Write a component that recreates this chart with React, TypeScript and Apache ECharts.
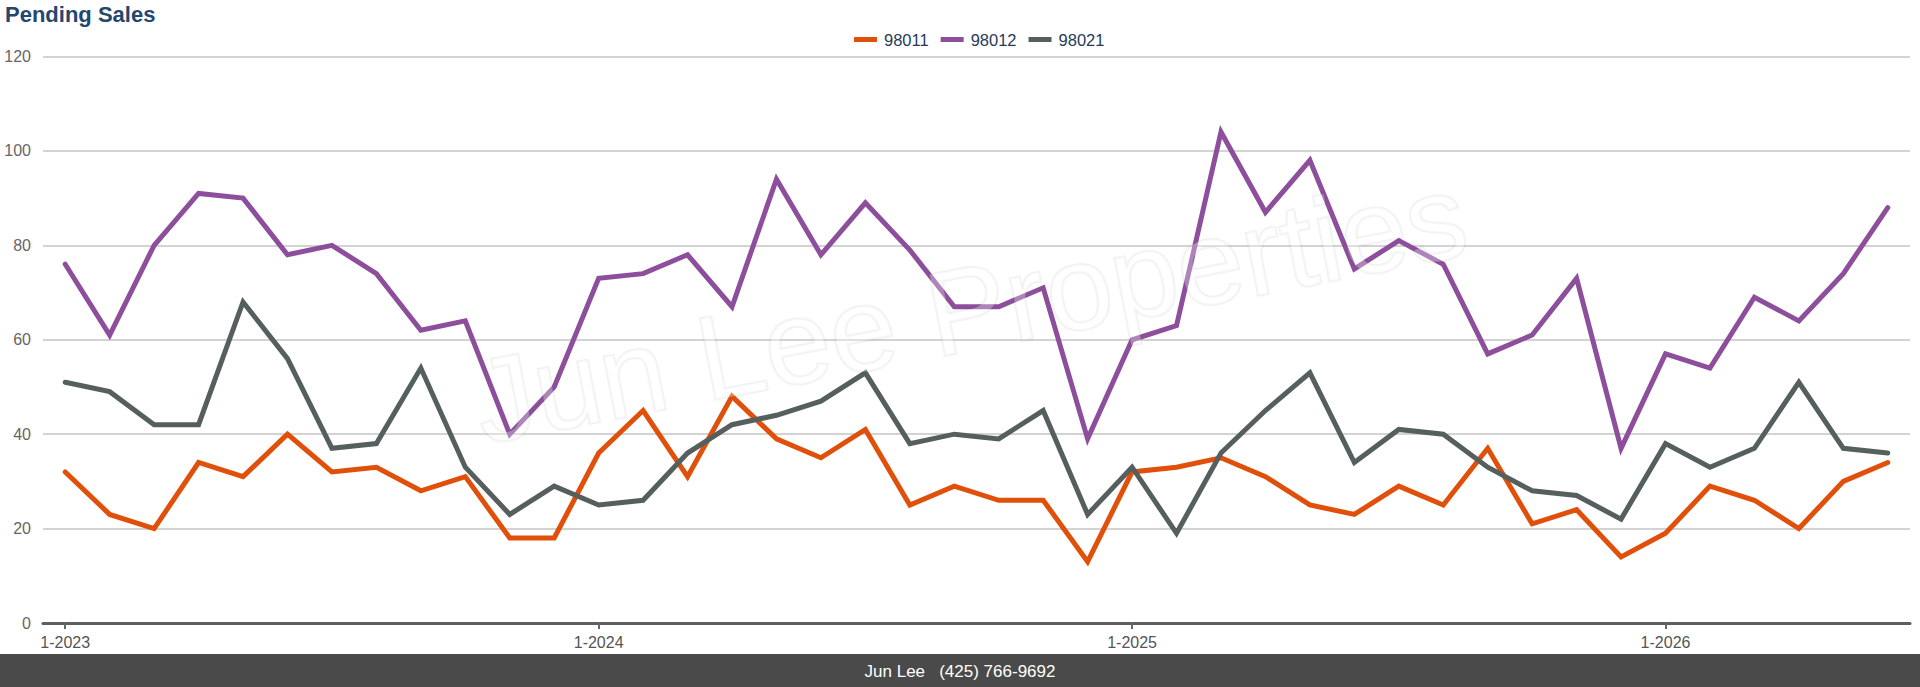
import React, { useEffect, useRef } from "react";
import * as echarts from "echarts";

const FONT = "'Liberation Sans', Arial, Helvetica, sans-serif";

const months: string[] = [
  "1-2023", "2-2023", "3-2023", "4-2023", "5-2023", "6-2023", "7-2023", "8-2023", "9-2023", "10-2023", "11-2023", "12-2023",
  "1-2024", "2-2024", "3-2024", "4-2024", "5-2024", "6-2024", "7-2024", "8-2024", "9-2024", "10-2024", "11-2024", "12-2024",
  "1-2025", "2-2025", "3-2025", "4-2025", "5-2025", "6-2025", "7-2025", "8-2025", "9-2025", "10-2025", "11-2025", "12-2025",
  "1-2026", "2-2026", "3-2026", "4-2026", "5-2026", "6-2026",
];

const zip98011: number[] = [
  32, 23, 20, 34, 31, 40, 32, 33, 28, 31, 18, 18,
  36, 45, 31, 48, 39, 35, 41, 25, 29, 26, 26, 13,
  32, 33, 35, 31, 25, 23, 29, 25, 37, 21, 24, 14,
  19, 29, 26, 20, 30, 34,
];

const zip98012: number[] = [
  76, 61, 80, 91, 90, 78, 80, 74, 62, 64, 40, 50,
  73, 74, 78, 67, 94, 78, 89, 79, 67, 67, 71, 39,
  60, 63, 104, 87, 98, 75, 81, 76, 57, 61, 73, 37,
  57, 54, 69, 64, 74, 88,
];

const zip98021: number[] = [
  51, 49, 42, 42, 68, 56, 37, 38, 54, 33, 23, 29,
  25, 26, 36, 42, 44, 47, 53, 38, 40, 39, 45, 23,
  33, 19, 36, 45, 53, 34, 41, 40, 33, 28, 27, 22,
  38, 33, 37, 51, 37, 36,
];

const seriesNames = ["98011", "98012", "98021"];
const seriesColors = ["#E0500A", "#8D4F9C", "#555F5D"];
const yTicks = { min: 0, max: 120, interval: 20 };

export default function App() {
  const ref = useRef<HTMLDivElement>(null);

  useEffect(() => {
    if (!ref.current) return;
    const chart = echarts.init(ref.current, undefined, { renderer: "svg" });
    const janOnly = (i: number) => i % 12 === 0;
    const values = [zip98011, zip98012, zip98021];
    chart.setOption({
      animation: false,
      backgroundColor: "#ffffff",
      title: {
        text: "Pending Sales",
        left: 5,
        top: 3,
        padding: 0,
        textStyle: { fontFamily: FONT, fontSize: 22, fontWeight: "bold", color: "#25466D" },
      },
      legend: {
        data: seriesNames,
        left: 854,
        top: 31,
        padding: 0,
        itemWidth: 23,
        itemHeight: 5,
        itemGap: 12,
        icon: "rect",
        textStyle: { fontFamily: FONT, fontSize: 16.5, color: "#263B5A", padding: [0, 0, 0, 2] },
      },
      grid: { left: 43, right: 10, top: 56.5, bottom: 64, containLabel: false },
      xAxis: {
        type: "category",
        data: months,
        boundaryGap: true,
        axisLine: { show: true, lineStyle: { color: "#5f5f5f", width: 3 } },
        axisTick: { show: true, alignWithLabel: true, interval: (i: number) => janOnly(i), length: 6, lineStyle: { color: "#666", width: 2 } },
        axisLabel: {
          interval: (i: number) => janOnly(i),
          margin: 11,
          fontFamily: FONT,
          fontSize: 16,
          color: "#555",
        },
        splitLine: { show: false },
      },
      yAxis: {
        type: "value",
        min: yTicks.min,
        max: yTicks.max,
        interval: yTicks.interval,
        axisLine: { show: false },
        axisTick: { show: false },
        axisLabel: { fontFamily: FONT, fontSize: 16, color: "#666", margin: 12 },
        splitLine: { lineStyle: { color: "#c4c4c4", width: 1.5 } },
      },
      series: seriesNames.map((name, k) => ({
        name,
        type: "line",
        data: values[k],
        symbol: "none",
        smooth: false,
        color: seriesColors[k],
        lineStyle: { width: 5, color: seriesColors[k], join: "miter", cap: "round" },
        z: 2 + k,
      })),
      graphic: [
        {
          type: "text",
          x: 970,
          y: 308,
          rotation: 0.19,
          z: 100,
          silent: true,
          style: {
            text: "Jun Lee Properties",
            font: `120px ${FONT}`,
            fill: "rgba(255,255,255,0.3)",
            stroke: "rgba(0,0,0,0.05)",
            lineWidth: 2.5,
            textAlign: "center",
            textVerticalAlign: "middle",
          },
        },
        {
          type: "rect",
          left: 0,
          top: 654,
          shape: { width: 1920, height: 33 },
          style: { fill: "#4A4A4A" },
          z: 100,
        },
        {
          type: "text",
          x: 960,
          y: 671,
          z: 101,
          style: {
            text: "Jun Lee   (425) 766-9692",
            font: `17px ${FONT}`,
            fill: "#ffffff",
            textAlign: "center",
            textVerticalAlign: "middle",
          },
        },
      ],
    });
    return () => chart.dispose();
  }, []);

  return (
    <div
      ref={ref}
      style={{ position: "absolute", left: 0, top: 0, width: 1920, height: 687 }}
    />
  );
}
